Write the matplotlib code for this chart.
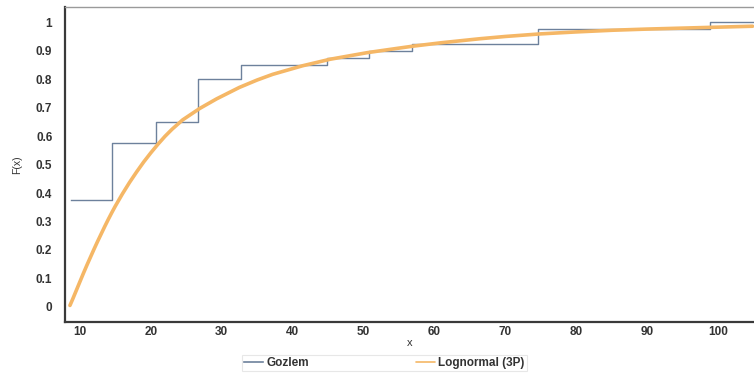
import matplotlib.pyplot as plt
import numpy as np

plt.rcParams['font.family'] = ['Liberation Sans', 'DejaVu Sans']

# Gozlem (empirical CDF) step edges and levels
step_x = [8.8, 14.6, 20.7, 26.6, 32.7, 44.8, 50.8, 56.9, 74.6, 98.9, 105.5]
step_y = [0.375, 0.575, 0.65, 0.80, 0.85, 0.875, 0.90, 0.925, 0.975, 1.0, 1.0]

# Lognormal (3P) curve
curve_x = [8.6, 9.0, 9.5, 10.0, 10.5, 11.0, 11.5, 12.0, 12.5, 13.0, 13.5,
           14.0, 14.5, 15.0, 16.0, 17.0, 18.0, 19.0, 20.0, 21.0, 22.0, 23.0,
           24.5, 26.9, 29.3, 32.5, 35.0, 37.2, 41.4, 45.3, 50.5, 54.7, 57.0,
           61.0, 66.4, 70.0, 74.9, 80.0, 85.2, 90.0, 98.9, 104.9]
curve_y = [0.005, 0.028, 0.058, 0.088, 0.118, 0.147, 0.175, 0.203, 0.230,
           0.256, 0.282, 0.307, 0.331, 0.354, 0.397, 0.437, 0.474, 0.509,
           0.541, 0.571, 0.599, 0.624, 0.657, 0.697, 0.731, 0.771, 0.797,
           0.817, 0.847, 0.870, 0.893, 0.908, 0.916, 0.928, 0.942, 0.950,
           0.959, 0.966, 0.972, 0.976, 0.982, 0.986]

xticks = [10, 20, 30, 40, 50, 60, 70, 80, 90, 100]
yticks = [0, 0.1, 0.2, 0.3, 0.4, 0.5, 0.6, 0.7, 0.8, 0.9, 1]

fig = plt.figure(figsize=(7.54, 3.77), dpi=100)
ax = fig.add_axes([0.086, 0.146, 0.914, 0.835])

ax.step(step_x, step_y, where='post', color='#6d819c', lw=1.0, label='Gozlem')
ax.plot(curve_x, curve_y, color='#f5b766', lw=2.6, solid_capstyle='round',
        solid_joinstyle='round', label='Lognormal (3P)')

ax.set_xlim(7.88, 105.1)
ax.set_ylim(-0.053, 1.053)
ax.set_xticks(xticks)
ax.set_xticklabels([str(v) for v in xticks])
ax.set_yticks(yticks)
ax.set_yticklabels(['0', '0.1', '0.2', '0.3', '0.4', '0.5', '0.6', '0.7', '0.8', '0.9', '1'])
ax.tick_params(length=0, labelsize=8.5, colors='#333333')
ax.tick_params(axis='x', pad=3)
ax.tick_params(axis='y', pad=9)
for lab in ax.get_xticklabels() + ax.get_yticklabels():
    lab.set_fontweight('bold')

ax.spines['right'].set_visible(False)
ax.spines['left'].set_color('#3a3a3a')
ax.spines['left'].set_linewidth(1.6)
ax.spines['bottom'].set_color('#3a3a3a')
ax.spines['bottom'].set_linewidth(1.6)
ax.spines['top'].set_color('#9a9a9a')
ax.spines['top'].set_linewidth(1.0)
ax.spines['top'].set_linestyle((0, (2, 1)))

ax.set_xlabel('x', fontsize=8, color='#333333', labelpad=0)
ax.set_ylabel('F(x)', fontsize=7.5, color='#333333', labelpad=10)

leg = fig.legend(loc='center', bbox_to_anchor=(0.51, 0.037), ncol=2,
                 fontsize=8.5, frameon=True, handlelength=1.6,
                 handletextpad=0.3, columnspacing=9, borderpad=0.2,
                 fancybox=False)
leg.get_frame().set_edgecolor('#e2e2e2')
leg.get_frame().set_linewidth(0.8)
for t in leg.get_texts():
    t.set_fontweight('bold')
    t.set_color('#333333')
for line in leg.get_lines():
    line.set_linewidth(1.2)

fig.savefig('out.png', dpi=100)
